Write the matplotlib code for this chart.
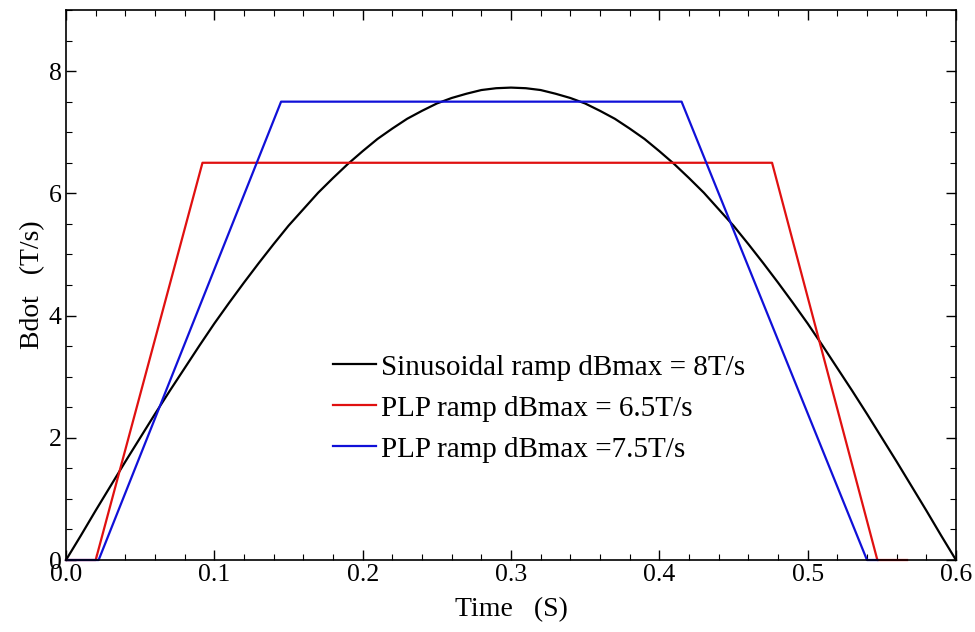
import matplotlib.pyplot as plt
from matplotlib.ticker import MultipleLocator

plt.rcParams['font.family'] = ['Liberation Serif', 'DejaVu Serif']

# sinusoidal ramp, read every 0.01 s from 0 to 0.6
t_sin = [round(0.01 * i, 2) for i in range(61)]
b_sin = [0.00, 0.40, 0.81, 1.21, 1.61, 2.00, 2.39, 2.77, 3.14, 3.51, 3.87,
         4.21, 4.54, 4.86, 5.17, 5.47, 5.74, 6.01, 6.25, 6.48, 6.69,
         6.89, 7.06, 7.22, 7.35, 7.47, 7.56, 7.63, 7.69, 7.72, 7.73,
         7.72, 7.69, 7.63, 7.56, 7.47, 7.35, 7.22, 7.06, 6.89, 6.69,
         6.48, 6.25, 6.01, 5.74, 5.47, 5.17, 4.86, 4.54, 4.21, 3.87,
         3.51, 3.14, 2.77, 2.39, 2.00, 1.61, 1.21, 0.81, 0.40, 0.00]

# PLP ramps (corner points)
t_plp65 = [0.0, 0.020, 0.092, 0.476, 0.547, 0.567]
b_plp65 = [0.0, 0.0, 6.5, 6.5, 0.0, 0.0]

t_plp75 = [0.0, 0.022, 0.145, 0.415, 0.540, 0.547]
b_plp75 = [0.0, 0.0, 7.5, 7.5, 0.0, 0.0]

fig = plt.figure(figsize=(9.75, 6.32), dpi=100)
ax = fig.add_axes([0.0677, 0.1139, 0.9128, 0.8703])

ax.plot(t_sin, b_sin, color='black', lw=1.6, clip_on=False,
        label='Sinusoidal ramp dBmax = 8T/s')
ax.plot(t_plp65, b_plp65, color='#e01010', lw=1.6, clip_on=False,
        label='PLP ramp dBmax = 6.5T/s')
ax.plot(t_plp75, b_plp75, color='#1010d8', lw=1.6, clip_on=False,
        label='PLP ramp dBmax =7.5T/s')

ax.set_xlim(0, 0.6)
ax.set_ylim(0, 9)
ax.xaxis.set_major_locator(MultipleLocator(0.1))
ax.xaxis.set_minor_locator(MultipleLocator(0.02))
ax.yaxis.set_major_locator(MultipleLocator(2))
ax.yaxis.set_minor_locator(MultipleLocator(0.5))
ax.xaxis.set_major_formatter(plt.FuncFormatter(lambda v, p: f'{v:.1f}'))
ax.tick_params(which='both', direction='in', top=True, right=True, labelsize=18.5)
ax.tick_params(which='major', length=7, width=1, pad=3)
ax.tick_params(which='minor', length=4, width=0.8)
for s in ax.spines.values():
    s.set_linewidth(1.2)

ax.set_xlabel('Time   (S)', fontsize=20, labelpad=8)
ax.set_ylabel('Bdot   (T/s)', fontsize=20, labelpad=3)

ax.legend(frameon=False, loc='upper left', bbox_to_anchor=(0.27, 0.422),
          fontsize=21, handlelength=1.5, labelspacing=0.5, handletextpad=0.15)

fig.savefig('out.png', dpi=100)
